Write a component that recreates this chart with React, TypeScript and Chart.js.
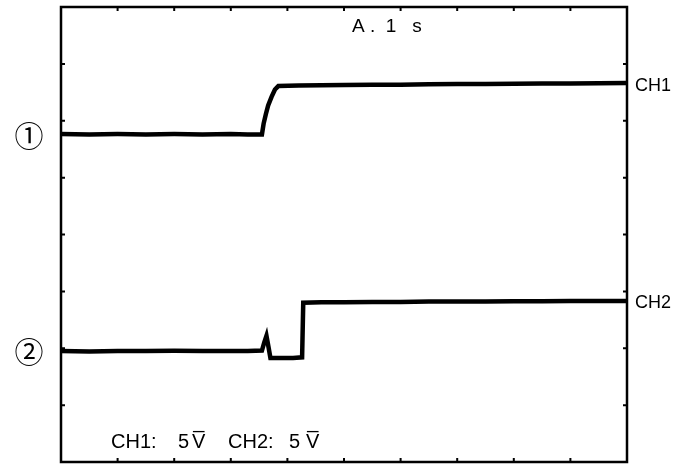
import React, { useEffect, useRef } from "react";
import { Chart, registerables } from "chart.js";

Chart.register(...registerables);

const X_DIVISIONS = 10;
const Y_DIVISIONS = 8;

const CH1_X = [0, 0.5, 1.0, 1.5, 2.0, 2.5, 3.0, 3.3, 3.55, 3.58, 3.62, 3.66, 3.72, 3.78, 3.84, 4.2, 4.6, 5.0, 5.5, 6.0, 6.5, 7.0, 7.5, 8.0, 8.5, 9.0, 9.5, 10];
const CH1_Y = [5.765, 5.76, 5.765, 5.76, 5.765, 5.76, 5.765, 5.76, 5.76, 5.95, 6.12, 6.27, 6.42, 6.55, 6.61, 6.62, 6.625, 6.63, 6.635, 6.635, 6.64, 6.645, 6.645, 6.65, 6.655, 6.655, 6.66, 6.665];

const CH2_X = [0, 0.5, 1.0, 1.5, 2.0, 2.5, 3.0, 3.3, 3.55, 3.59, 3.63, 3.67, 3.70, 3.9, 4.1, 4.26, 4.28, 4.6, 5.0, 5.5, 6.0, 6.5, 7.0, 7.5, 8.0, 8.5, 9.0, 9.5, 10];
const CH2_Y = [1.95, 1.945, 1.95, 1.95, 1.955, 1.95, 1.95, 1.95, 1.96, 2.1, 2.22, 2.0, 1.83, 1.83, 1.83, 1.84, 2.8, 2.81, 2.81, 2.815, 2.815, 2.82, 2.82, 2.82, 2.825, 2.825, 2.83, 2.83, 2.83];

const TITLE_TEXT = "A .  1   s";
const TRACE_LABELS = ["CH1", "CH2"];
const MARKER_LABELS = ["①", "②"];
const SCALE_PARTS = ["CH1:", "5", "V\u0305", "CH2:", "5", "V\u0305"];

const scopePlugin = {
  id: "scope",
  afterDraw(chart: any) {
    const { ctx, chartArea } = chart;
    const xs = chart.scales.x;
    const ys = chart.scales.y;
    const { left, right, top, bottom } = chartArea;
    ctx.save();
    ctx.strokeStyle = "#000";
    ctx.lineWidth = 2.5;
    ctx.strokeRect(left, top, right - left, bottom - top);
    ctx.lineWidth = 2;
    const tl = 4;
    for (let k = 1; k < X_DIVISIONS; k++) {
      const px = xs.getPixelForValue(k);
      ctx.beginPath();
      ctx.moveTo(px, top);
      ctx.lineTo(px, top + tl);
      ctx.moveTo(px, bottom);
      ctx.lineTo(px, bottom - tl);
      ctx.stroke();
    }
    for (let k = 1; k < Y_DIVISIONS; k++) {
      const py = ys.getPixelForValue(k);
      ctx.beginPath();
      ctx.moveTo(left, py);
      ctx.lineTo(left + tl, py);
      ctx.moveTo(right, py);
      ctx.lineTo(right - tl, py);
      ctx.stroke();
    }
    ctx.fillStyle = "#000";
    ctx.textBaseline = "alphabetic";
    ctx.textAlign = "left";
    ctx.font = "19px 'Liberation Sans', Arial, sans-serif";
    ctx.fillText(TITLE_TEXT, 352, 32);
    ctx.font = "18px 'Liberation Sans', Arial, sans-serif";
    ctx.fillText(TRACE_LABELS[0], 635, 91);
    ctx.fillText(TRACE_LABELS[1], 635, 308);
    ctx.font = "20px 'Liberation Sans', Arial, sans-serif";
    const partX = [111, 178, 192, 228, 289, 306];
    SCALE_PARTS.forEach((t, i) => ctx.fillText(t, partX[i], 448));
    ctx.font = "29px 'Noto Sans CJK JP', 'DejaVu Sans', sans-serif";
    ctx.textAlign = "center";
    ctx.textBaseline = "middle";
    ctx.fillText(MARKER_LABELS[0], 29, ys.getPixelForValue(CH1_Y[0]) + 2);
    ctx.fillText(MARKER_LABELS[1], 29, ys.getPixelForValue(CH2_Y[0]) + 1);
    ctx.restore();
  },
};

export default function App() {
  const ref = useRef<HTMLCanvasElement | null>(null);
  useEffect(() => {
    if (!ref.current) return;
    const chart = new Chart(ref.current, {
      type: "line",
      data: {
        datasets: [
          {
            label: "CH1",
            data: CH1_X.map((x, i) => ({ x, y: CH1_Y[i] })),
            borderColor: "#000",
            borderWidth: 4.5,
            pointRadius: 0,
            tension: 0,
          },
          {
            label: "CH2",
            data: CH2_X.map((x, i) => ({ x, y: CH2_Y[i] })),
            borderColor: "#000",
            borderWidth: 4.5,
            pointRadius: 0,
            tension: 0,
          },
        ],
      },
      options: {
        animation: false,
        responsive: false,
        layout: { padding: { left: 61, right: 51, top: 7, bottom: 2 } },
        scales: {
          x: { type: "linear", min: 0, max: X_DIVISIONS, display: false },
          y: { type: "linear", min: 0, max: Y_DIVISIONS, display: false },
        },
        plugins: { legend: { display: false }, tooltip: { enabled: false } },
      },
      plugins: [scopePlugin],
    });
    return () => chart.destroy();
  }, []);
  return (
    <div style={{ position: "absolute", left: 0, top: 0, width: 678, height: 464, background: "#fff" }}>
      <canvas ref={ref} width={678} height={464} />
    </div>
  );
}
